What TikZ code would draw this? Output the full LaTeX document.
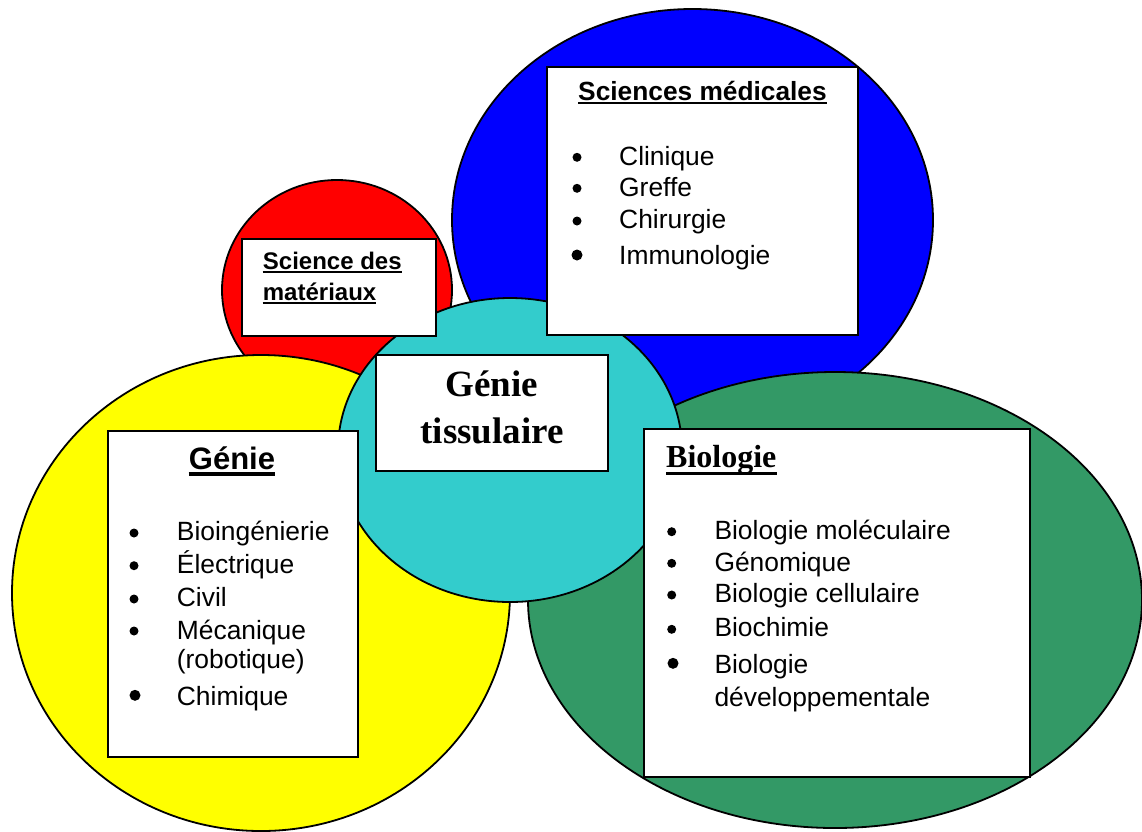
\documentclass[tikz,border=0pt]{standalone}
\usepackage{fontspec}
\setmainfont{Liberation Sans}
\newfontfamily\serifbf{Liberation Serif}[BoldFont={Liberation Serif Bold}]
\definecolor{cblue}{RGB}{0,0,255}
\definecolor{cred}{RGB}{255,0,0}
\definecolor{cyellow}{RGB}{255,255,0}
\definecolor{cteal}{RGB}{51,204,204}
\definecolor{cgreen}{RGB}{51,153,102}
\tikzset{
  blob/.style={draw=black, line width=1.8pt},
  whitebox/.style={draw=black, fill=white, line width=2.5pt, inner sep=0pt, rectangle},
  itemtext/.style={anchor=base west, inner sep=0pt, font=\fontsize{26.4}{31}\selectfont},
  headsans/.style={anchor=base, inner sep=0pt, font=\fontsize{26.3}{31}\selectfont\bfseries},
  ul/.style={line width=2.2pt},
  bul/.style={radius=4.5pt},
  bigbul/.style={radius=5.5pt},
}
\begin{document}
\begin{tikzpicture}[x=1pt,y=-1pt]
\useasboundingbox (0,0) rectangle (1142,831);
% circles
\draw[blob, fill=cblue] (692.5,220) ellipse [x radius=240.5pt, y radius=211pt];
\draw[blob, fill=cred] (337,290) ellipse [x radius=115pt, y radius=110pt];
\draw[blob, fill=cyellow] (261,593) ellipse [x radius=249pt, y radius=238pt];
\draw[blob, fill=cgreen] (835,600) ellipse [x radius=307pt, y radius=228pt];
\draw[blob, fill=cteal] (510,450) ellipse [x radius=172pt, y radius=152pt];

% boxes
\node[whitebox, minimum width=311pt, minimum height=268pt] (medbox) at (702.5,201) {};
\node[whitebox, minimum width=194pt, minimum height=97pt] (matbox) at (339,287.5) {};
\node[whitebox, minimum width=232pt, minimum height=116pt] (gtbox) at (492,413) {};
\node[whitebox, minimum width=250pt, minimum height=326pt] (genbox) at (233,594) {};
\node[whitebox, minimum width=386pt, minimum height=348pt] (biobox) at (837,603) {};

% Sciences medicales
\node[headsans] (medh) at (702.5,100.7) {Sciences médicales};
\draw[ul] ([yshift=-2.5pt]medh.base west) -- ([yshift=-2.5pt]medh.base east);
\node[itemtext] (m1) at (619,165) {Clinique};
\node[itemtext] (m2) at (619,196.7) {Greffe};
\node[itemtext] (m3) at (619,228.3) {Chirurgie};
\node[itemtext] (m4) at (619,264) {Immunologie};
\fill (577,157.3) circle[bul];
\fill (577,188.3) circle[bul];
\fill (577,221) circle[bul];
\fill (577,255) circle[bigbul];

% Science des materiaux
\node[anchor=base west, inner sep=0pt, font=\fontsize{24}{30}\selectfont\bfseries] (mat1) at (262.7,269) {Science des};
\node[anchor=base west, inner sep=0pt, font=\fontsize{24}{30}\selectfont\bfseries] (mat2) at (262.7,300) {matériaux};
\draw[line width=2pt] ([yshift=-2.5pt]mat1.base west) -- ([yshift=-2.5pt]mat1.base east);
\draw[line width=2pt] ([yshift=-2.5pt]mat2.base west) -- ([yshift=-2.5pt]mat2.base east);

% Genie tissulaire
\node[anchor=base, inner sep=0pt, font=\fontsize{37}{47}\selectfont\serifbf\bfseries] (gt1) at (492,396) {Génie};
\node[anchor=base, inner sep=0pt, font=\fontsize{37}{47}\selectfont\serifbf\bfseries] (gt2) at (492,443) {tissulaire};

% Genie
\node[anchor=base, inner sep=0pt, font=\fontsize{31}{37}\selectfont\bfseries] (genh) at (232,469.3) {Génie};
\draw[line width=3.5pt] ([yshift=-4.7pt]genh.base west) -- ([yshift=-4.7pt]genh.base east);
\node[itemtext] (g1) at (176.7,540.7) {Bioingénierie};
\node[itemtext] (g2) at (176.7,573.3) {Électrique};
\node[itemtext] (g3) at (176.7,606.7) {Civil};
\node[itemtext] (g4) at (176.7,639) {Mécanique};
\node[itemtext] (g5) at (176.7,668.3) {(robotique)};
\node[itemtext] (g6) at (176.7,705) {Chimique};
\fill (134,533) circle[bul];
\fill (134,565.7) circle[bul];
\fill (134,599) circle[bul];
\fill (134,631) circle[bul];
\fill (135,695.3) circle[bigbul];

% Biologie
\node[anchor=base west, inner sep=0pt, font=\fontsize{32}{38}\selectfont\serifbf\bfseries] (bioh) at (666,467.3) {Biologie};
\draw[line width=3.3pt] ([yshift=-6pt]bioh.base west) -- ([yshift=-6pt]bioh.base east);
\node[itemtext] (b1) at (714.3,539) {Biologie moléculaire};
\node[itemtext] (b2) at (714.3,571) {Génomique};
\node[itemtext] (b3) at (714.3,602.7) {Biologie cellulaire};
\node[itemtext] (b4) at (714.3,636.7) {Biochimie};
\node[itemtext] (b5) at (714.3,673.3) {Biologie};
\node[itemtext] (b6) at (714.3,706.7) {développementale};
\fill (671.7,531.7) circle[bul];
\fill (671.7,563.3) circle[bul];
\fill (671.7,595) circle[bul];
\fill (671.7,629.3) circle[bul];
\fill (673,663.3) circle[bigbul];
\end{tikzpicture}
\end{document}
